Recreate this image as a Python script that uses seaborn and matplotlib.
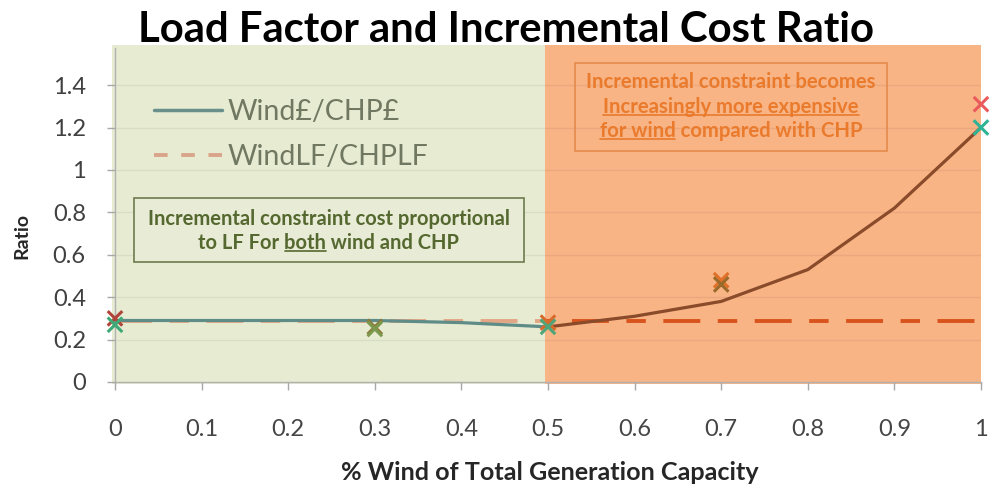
import numpy as np
import pandas as pd
import matplotlib
matplotlib.use("Agg")
import matplotlib.pyplot as plt
from matplotlib.patches import Rectangle
from matplotlib.lines import Line2D
import seaborn as sns

# --- data ---
wind_share = [0.0, 0.1, 0.2, 0.3, 0.4, 0.5, 0.6, 0.7, 0.8, 0.9, 1.0]
cost_ratio = [0.29, 0.29, 0.29, 0.29, 0.28, 0.26, 0.31, 0.38, 0.53, 0.82, 1.20]
lf_ratio = [0.29, 0.29, 0.29, 0.29, 0.29, 0.29, 0.29, 0.29, 0.29, 0.29, 0.29]

point_share = [0.0, 0.3, 0.5, 0.7, 1.0]
point_lf = [0.30, 0.26, 0.28, 0.48, 1.31]
point_cost = [0.27, 0.25, 0.26, 0.46, 1.20]

x_ticks = [0, 0.1, 0.2, 0.3, 0.4, 0.5, 0.6, 0.7, 0.8, 0.9, 1.0]
y_ticks = [0, 0.2, 0.4, 0.6, 0.8, 1.0, 1.2, 1.4]

series_names = ["Wind£/CHP£", "WindLF/CHPLF"]
title = "Load Factor and Incremental Cost Ratio"
x_label = "% Wind of Total Generation Capacity"
y_label = "Ratio"
left_note = ["Incremental constraint cost proportional", "to LF For both wind and CHP"]
right_note = ["Incremental constraint becomes", "Increasingly more expensive", "for wind compared with CHP"]

# --- styles ---
FONT = "Lato"
GREEN_BG = "#e6ebd2"
ORANGE_BG = "#f8b485"
COST_LEFT, COST_RIGHT = "#5f8c87", "#8a4b2b"
LF_LEFT, LF_RIGHT = "#e3a685", "#d9531d"
LF_POINT_COLORS = ["#b0453a", "#8c7a3c", "#d86a2c", "#e07028", "#ea5a5a"]
COST_POINT_COLORS = ["#3fa877", "#7c9a4e", "#4fa57a", "#9a6a2a", "#2fb394"]

sns.set_theme(style="white")
plt.rcParams["font.family"] = [FONT, "DejaVu Sans"]

fig = plt.figure(figsize=(9.92, 4.93), dpi=100)
ax = fig.add_axes([115 / 992, 1 - 382 / 493, 866 / 992, 334 / 493])
ax.set_xlim(0, 1.0)
ax.set_ylim(0, 1.575)

split = 0.497
left_bg = Rectangle((-0.003, -0.01), split + 0.003, 1.6, facecolor=GREEN_BG,
                    edgecolor="none", zorder=0, clip_on=False)
right_bg = Rectangle((split, -0.01), 1.0 - split, 1.6, facecolor=ORANGE_BG,
                     edgecolor="none", zorder=0, clip_on=False)
ax.add_patch(left_bg)
ax.add_patch(right_bg)

for yv in y_ticks[1:]:
    ax.axhline(yv, color="black", alpha=0.06, lw=1, zorder=0.5)

left_clip = Rectangle((-1, -1), 1 + split, 4, transform=ax.transData)
right_clip = Rectangle((split, -1), 2, 4, transform=ax.transData)

df = pd.DataFrame({"share": wind_share, "cost": cost_ratio, "lf": lf_ratio})
lf_dash = (9.5, 4.5, 5, 4.5)

for clip, c_cost, c_lf in [(left_clip, COST_LEFT, LF_LEFT), (right_clip, COST_RIGHT, LF_RIGHT)]:
    n0 = len(ax.lines)
    sns.lineplot(data=df, x="share", y="lf", color=c_lf, lw=2.8, ax=ax, zorder=2)
    ax.lines[-1].set_dashes(lf_dash)
    sns.lineplot(data=df, x="share", y="cost", color=c_cost, lw=2.3, ax=ax, zorder=3)
    for ln in ax.lines[n0:]:
        ln.set_clip_path(clip)

pts = pd.DataFrame({"share": point_share, "lf": point_lf, "cost": point_cost,
                    "id": [f"p{i}" for i in range(len(point_share))]})
sns.scatterplot(data=pts, x="share", y="lf", hue="id", palette=LF_POINT_COLORS,
                marker="x", s=110, linewidth=2.2, legend=False, ax=ax, zorder=4, clip_on=False)
sns.scatterplot(data=pts, x="share", y="cost", hue="id", palette=COST_POINT_COLORS,
                marker="x", s=110, linewidth=2.2, legend=False, ax=ax, zorder=4, clip_on=False)

# axes styling
ax.set_xticks(x_ticks)
ax.set_yticks(y_ticks)
ax.set_xticklabels([f"{v:g}" for v in x_ticks])
ax.set_yticklabels([f"{v:g}" for v in y_ticks])
ax.tick_params(axis="x", length=6, width=1, color="#a8a8a8", pad=21, labelsize=17, labelcolor="#454545")
ax.tick_params(axis="y", length=6, width=1, color="#a8a8a8", pad=15, labelsize=17, labelcolor="#404040")
ax.tick_params(bottom=True, left=True, direction="out")
ax.grid(False)
for side in ["top", "right"]:
    ax.spines[side].set_visible(False)
for side in ["left", "bottom"]:
    ax.spines[side].set_color("#b0b0b0")
    ax.spines[side].set_linewidth(1)
    ax.spines[side].set_zorder(1)
ax.set_xlabel("")
ax.set_ylabel("")

# legend
handles = [Line2D([], [], color="#6a908b", lw=2.5),
           Line2D([], [], color="#d9a58a", lw=2.8, dashes=(3.5, 3.5))]
leg = ax.legend(handles, series_names, loc="upper left", bbox_to_anchor=(0.015, 0.925),
                frameon=False, handlelength=2.4, handletextpad=0.2, labelspacing=0.68,
                fontsize=20.5, labelcolor="#717861")

fig.canvas.draw()
renderer = fig.canvas.get_renderer()


def fit_text(t, target_px):
    w = t.get_window_extent(renderer).width
    t.set_fontsize(t.get_fontsize() * target_px / w)


def text_width(s, props):
    tmp = fig.text(0, 0, s, **props)
    w = tmp.get_window_extent(renderer).width
    tmp.remove()
    return w


def underline(t, start, stop, color, lw=1.2):
    s = t.get_text()
    props = dict(fontsize=t.get_fontsize(), fontweight=t.get_fontweight(),
                 family=t.get_fontfamily())
    bb = t.get_window_extent(renderer)
    x_end = bb.x0 + text_width(s[:stop], props)
    x_start = x_end - text_width(s[start:stop], props)
    y = bb.y0 + 0.12 * bb.height
    inv = fig.transFigure.inverted()
    (fx0, fy), (fx1, _) = inv.transform([(x_start, y), (x_end, y)])
    fig.add_artist(Line2D([fx0, fx1], [fy, fy], color=color, lw=lw, zorder=7))


def px(x, y):
    return x / 992, 1 - y / 493


t_title = fig.text(*px(506, 30), title, ha="center", va="center",
                   fontsize=28, fontweight="bold", color="black")
fit_text(t_title, 738)
t_x = fig.text(*px(550, 473), x_label, ha="center", va="center",
               fontsize=14, fontweight="bold", color="#262626")
fit_text(t_x, 420)
fig.text(*px(22, 236), y_label, ha="center", va="center", rotation=90,
         fontsize=14, fontweight="bold", color="#262626")

# note boxes (pixel-placed shapes)
box_l = Rectangle(px(134, 262), 390 / 992, 64 / 493, transform=fig.transFigure,
                  facecolor="#e8ecd6", edgecolor="#6f7a4e", lw=1.2, zorder=5)
box_r = Rectangle(px(575, 151), 312 / 992, 88 / 493, transform=fig.transFigure,
                  facecolor="none", edgecolor="#e58a4c", lw=1.2, zorder=5)
fig.add_artist(box_l)
fig.add_artist(box_r)

note_l = []
for s, yy in zip(left_note, [219, 243]):
    t = fig.text(*px(329, yy), s, ha="center", va="center", fontsize=11,
                 fontweight="bold", color="#55682f", zorder=6)
    note_l.append(t)
fig.canvas.draw()
fit_text(note_l[0], 360)
note_l[1].set_fontsize(note_l[0].get_fontsize())

note_r = []
for s, yy in zip(right_note, [82, 107, 131]):
    t = fig.text(*px(731, yy), s, ha="center", va="center", fontsize=11,
                 fontweight="bold", color="#ea7a2c", zorder=6)
    note_r.append(t)
fig.canvas.draw()
fit_text(note_r[0], 288)
for t in note_r[1:]:
    t.set_fontsize(note_r[0].get_fontsize())

fig.canvas.draw()
s = left_note[1]
underline(note_l[1], s.index("both"), s.index("both") + 4, "#55682f")
underline(note_r[1], 0, len(right_note[1]), "#ea7a2c")
underline(note_r[2], 0, len("for wind"), "#ea7a2c")

fig.savefig("out.png", dpi=100)
